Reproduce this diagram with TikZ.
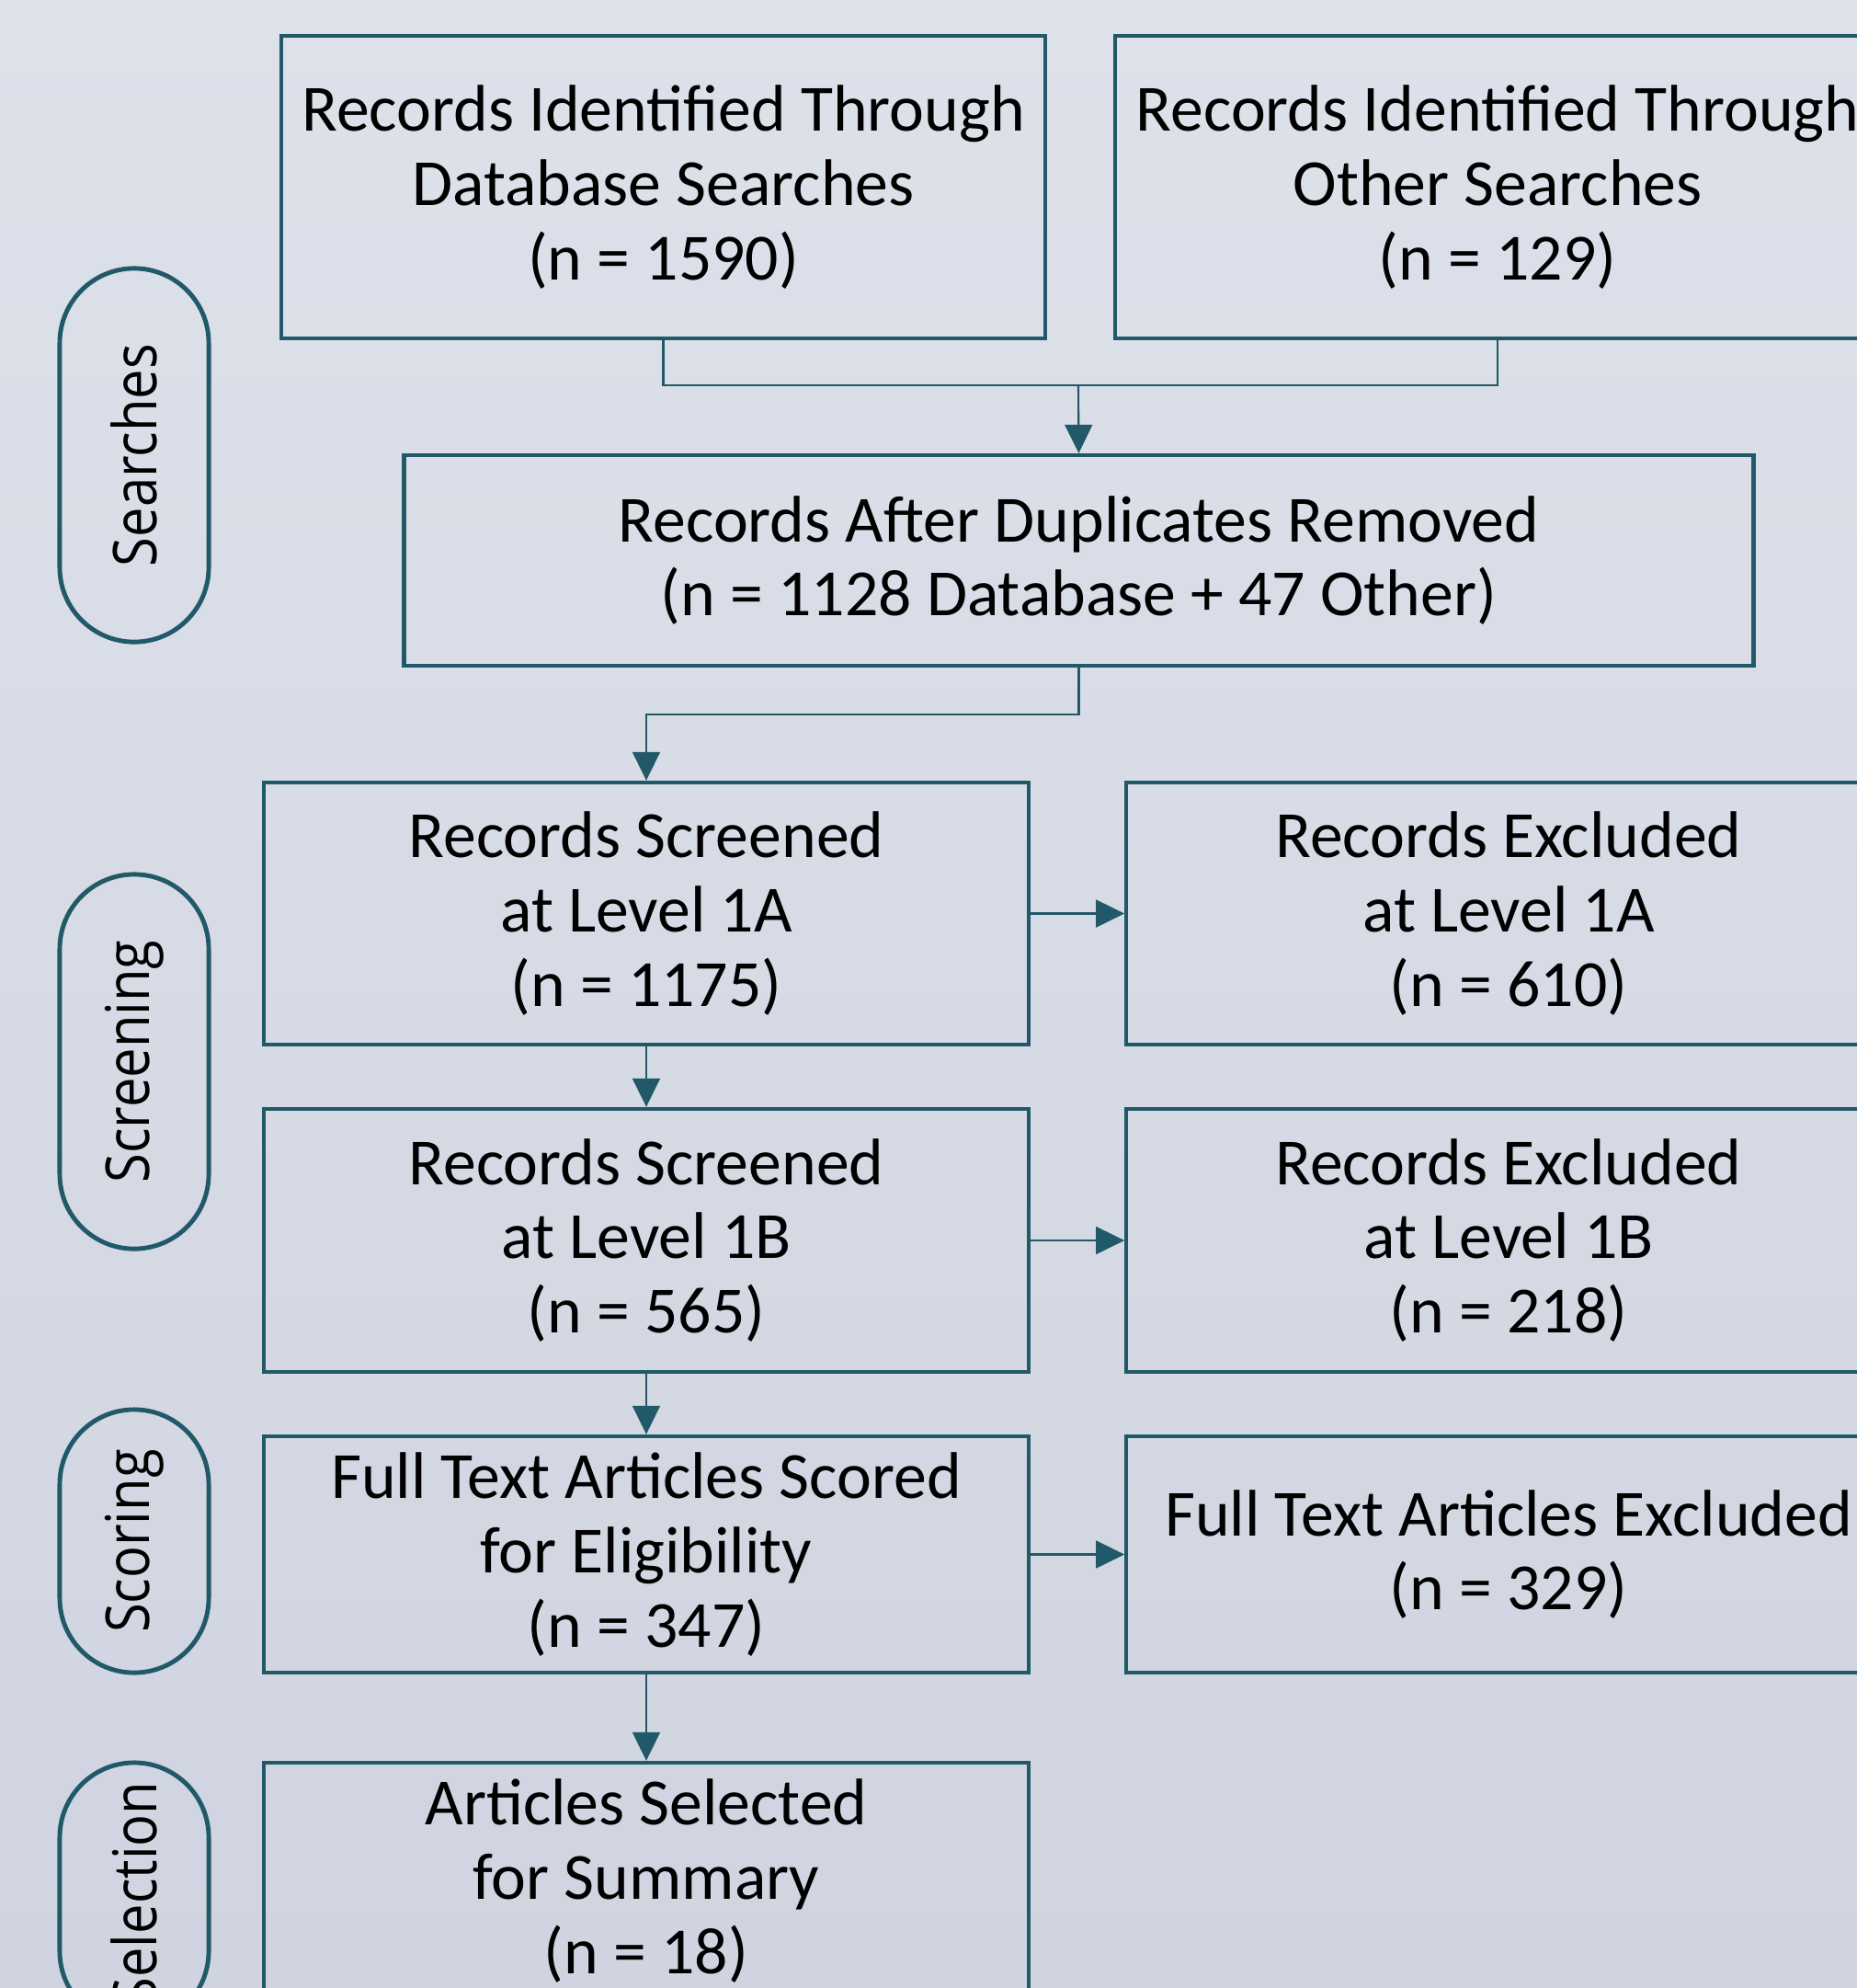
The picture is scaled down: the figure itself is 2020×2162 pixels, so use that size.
\documentclass[tikz,border=0pt]{standalone}
\usepackage{fontspec}
\setmainfont{Carlito}
\newfontfamily\pillfont[FakeStretch=0.88]{Open Sans}
\usepackage{tikz}
\usetikzlibrary{arrows.meta}
\definecolor{linecol}{RGB}{33,89,104}
\definecolor{bgtop}{RGB}{221,225,234}
\definecolor{bgbot}{RGB}{207,212,224}
\tikzstyle{box}=[draw=linecol, line width=1.2pt, rectangle, align=center, inner sep=2pt, minimum width=8.31cm, font=\fontsize{20.4}{23}\selectfont]
\tikzstyle{pill}=[draw=linecol, line width=1.4pt, rectangle, rounded corners=0.81cm, minimum height=1.62cm, inner sep=0pt, rotate=90, font=\pillfont\fontsize{18.7}{22}\selectfont]
\tikzstyle{link}=[draw=linecol, line width=0.6pt]
\tikzstyle{arr}=[link, -{Triangle[length=8.8pt,width=8.5pt]}]

\begin{document}
\begin{tikzpicture}[x=0.01cm, y=-0.01cm]
      \useasboundingbox (0,0) rectangle (2020,2162);
      \clip (0,0) rectangle (2020,2162);
      \shade [top color=bgtop, bottom color=bgbot] (0,0) rectangle (2020,2162);
      % \draw[help lines, step=100] (0,0) grid (2020,2162);

      \node [pill, minimum width=4.06cm] (psea) at (146,495) {Searches};
      \node [pill, minimum width=4.07cm] (pscr) at (146,1154.5) {Screening};
      \node [pill, minimum width=2.86cm] (psco) at (146,1676) {Scoring};
      \node [pill, minimum width=2.86cm] (psel) at (146,2060) {Selection};

      \node [box, minimum height=3.29cm] (db) at (721.5,203.5) {Records Identified Through\\Database Searches\\(n = 1590)};
      \node [box, minimum height=3.29cm] (oth) at (1629,203.5) {Records Identified Through\\Other Searches\\(n = 129)};
      \node [box, minimum width=14.67cm, minimum height=2.29cm] (dup) at (1173.5,609.5) {Records After Duplicates Removed\\(n = 1128 Database + 47 Other)};
      \node [box, minimum height=2.85cm] (s1a) at (703,993.5) {Records Screened\\at Level 1A\\(n = 1175)};
      \node [box, minimum height=2.85cm] (e1a) at (1641,993.5) {Records Excluded\\at Level 1A\\(n = 610)};
      \node [box, minimum height=2.86cm] (s1b) at (703,1349) {Records Screened\\at Level 1B\\(n = 565)};
      \node [box, minimum height=2.86cm] (e1b) at (1641,1349) {Records Excluded\\at Level 1B\\(n = 218)};
      \node [box, minimum height=2.57cm] (sc) at (703,1690.5) {Full Text Articles Scored\\for Eligibility\\(n = 347)};
      \node [box, minimum height=2.57cm] (exc) at (1641,1690.5) {Full Text Articles Excluded\\(n = 329)};
      \node [box, minimum height=2.57cm] (sel) at (703,2045.5) {Articles Selected\\for Summary\\(n = 18)};

      % merge of the two searches
      \coordinate (join) at (1173,419);
      \draw [link] (db.south) |- (join) -| (oth.south);
      \draw [arr] (join) -- (dup.north);
      \draw [arr] (dup.south) -- ++(0,51) -| (s1a.north);

      \draw [arr] (s1a) -- (e1a);
      \draw [arr] (s1a) -- (s1b);
      \draw [arr] (s1b) -- (e1b);
      \draw [arr] (s1b) -- (sc);
      \draw [arr] (sc) -- (exc);
      \draw [arr] (sc) -- (sel);
\end{tikzpicture}
\end{document}
